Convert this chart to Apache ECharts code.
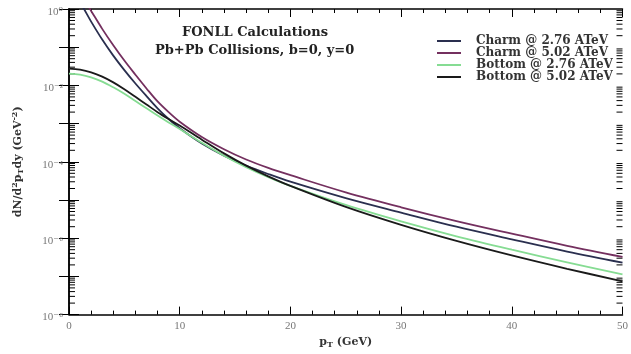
<!DOCTYPE html>
<html>
<head>
<meta charset="utf-8">
<script src="https://cdn.jsdelivr.net/npm/echarts@6/dist/echarts.min.js"></script>
<style>
  html, body { margin: 0; padding: 0; background: #fff; }
  #chart { width: 631px; height: 354px; }
</style>
</head>
<body>
<div id="chart"></div>
<script>
// Transverse momentum grid (GeV)
const pT = [0, 1, 2, 3, 4, 5, 6, 7, 8, 9, 10, 12, 14, 16, 18, 20, 25, 30, 35, 40, 45, 50];

// log10 of dN/d2pTdy (GeV^-2) for each curve
const charm276Log = [0.55, 0.17, -0.33, -0.8, -1.22, -1.6, -1.95, -2.28, -2.6, -2.88, -3.12, -3.52, -3.84, -4.1, -4.32, -4.52, -4.95, -5.33, -5.7, -6.03, -6.35, -6.64];
const charm502Log = [0.8, 0.42, -0.05, -0.52, -0.95, -1.35, -1.72, -2.08, -2.42, -2.7, -2.95, -3.35, -3.67, -3.94, -4.16, -4.35, -4.8, -5.19, -5.55, -5.88, -6.2, -6.49];
const bottom276Log = [-1.69, -1.72, -1.79, -1.9, -2.05, -2.22, -2.41, -2.6, -2.79, -2.97, -3.14, -3.5, -3.84, -4.14, -4.4, -4.63, -5.13, -5.56, -5.95, -6.3, -6.63, -6.95];
const bottom502Log = [-1.56, -1.59, -1.66, -1.77, -1.92, -2.1, -2.3, -2.5, -2.7, -2.88, -3.05, -3.42, -3.78, -4.1, -4.38, -4.63, -5.18, -5.65, -6.07, -6.45, -6.8, -7.13];

const seriesNames = ['Charm @ 2.76 ATeV', 'Charm @ 5.02 ATeV', 'Bottom @ 2.76 ATeV', 'Bottom @ 5.02 ATeV'];
const seriesColors = ['#2a2f4f', '#74305f', '#86dc93', '#1a1a1a'];
const seriesLogs = [charm276Log, charm502Log, bottom276Log, bottom502Log];

// Axis ranges and tick settings
const xMin = 0, xMax = 50, xMajor = 10, xMinor = 2;
const yMinExp = -8, yMaxExp = 0;

const SERIF = '"DejaVu Serif", "Liberation Serif", serif';
const TIMES = '"Liberation Serif", "DejaVu Serif", serif';

const toPairs = (logs) => pT.map((x, i) => [x, Math.pow(10, logs[i])]);

// Log-spaced minor tick values (2..9 x 10^k) for the y axis
const yMinorTicks = [];
for (let e = yMinExp; e < yMaxExp; e++) {
  for (let m = 2; m <= 9; m++) yMinorTicks.push(m * Math.pow(10, e));
}

const supMap = { '-': '\u207B', '0': '\u2070', '1': '\u00B9', '2': '\u00B2', '3': '\u00B3', '4': '\u2074', '5': '\u2075', '6': '\u2076', '7': '\u2077', '8': '\u2078', '9': '\u2079' };

const chart = echarts.init(document.getElementById('chart'), null, { renderer: 'canvas' });

const lineSeries = seriesLogs.map((logs, i) => ({
  name: seriesNames[i],
  type: 'line',
  data: toPairs(logs),
  smooth: 0.35,
  showSymbol: false,
  clip: true,
  lineStyle: { color: seriesColors[i], width: 1.8 },
  itemStyle: { color: seriesColors[i] },
  z: 3
}));

// Minor log ticks on left and right frame edges
const minorTickSeries = {
  type: 'custom',
  silent: true,
  data: yMinorTicks.map(v => [0, v]),
  renderItem: function (params, api) {
    const v = api.value(1);
    const pl = api.coord([xMin, v]);
    const pr = api.coord([xMax, v]);
    const s = { stroke: '#000', lineWidth: 1 };
    return {
      type: 'group',
      children: [
        { type: 'line', shape: { x1: pl[0], y1: pl[1], x2: pl[0] + 6, y2: pl[1] }, style: s },
        { type: 'line', shape: { x1: pr[0], y1: pr[1], x2: pr[0] - 6, y2: pr[1] }, style: s }
      ]
    };
  },
  z: 2
};

const option = {
  animation: false,
  backgroundColor: '#fff',
  grid: { left: 69, right: 4, top: 9, bottom: 33, containLabel: false },
  graphic: [
    {
      type: 'text', top: 26, left: 182, z: 10,
      style: { text: 'FONLL Calculations', font: 'bold 13px ' + SERIF, fill: '#222' }
    },
    {
      type: 'text', top: 44, left: 155, z: 10,
      style: { text: 'Pb+Pb Collisions, b=0, y=0', font: 'bold 13px ' + SERIF, fill: '#222' }
    }
  ],
  legend: {
    orient: 'vertical',
    left: 437,
    top: 35,
    padding: 0,
    itemWidth: 24,
    itemHeight: 2,
    itemGap: 0,
    icon: 'rect',
    data: seriesNames,
    textStyle: { fontFamily: SERIF, fontWeight: 'bold', fontSize: 12, lineHeight: 11, color: '#333', padding: [0, 0, 0, 10] }
  },
  xAxis: [
    {
      type: 'value', min: xMin, max: xMax, interval: xMajor,
      axisLine: { lineStyle: { color: '#000', width: 1.5 } },
      axisTick: { inside: true, length: 8, lineStyle: { color: '#000' } },
      minorTick: { show: true, splitNumber: xMajor / xMinor, length: 4, lineStyle: { color: '#000' } },
      splitLine: { show: false },
      axisLabel: { fontFamily: TIMES, fontSize: 11, color: '#777', margin: 6 },
      name: '{p|p}{sub|T}{p| (GeV)}',
      nameLocation: 'middle',
      nameGap: 17,
      nameTextStyle: {
        rich: {
          p: { fontFamily: SERIF, fontWeight: 'bold', fontSize: 11, color: '#333' },
          sub: { fontFamily: SERIF, fontWeight: 'bold', fontSize: 8, color: '#333', padding: [6, 0, 0, 0] }
        }
      }
    },
    {
      type: 'value', position: 'top', min: xMin, max: xMax, interval: xMajor,
      axisLine: { show: true, lineStyle: { color: '#000', width: 1.5 } },
      axisTick: { inside: true, length: 8, lineStyle: { color: '#000' } },
      minorTick: { show: true, splitNumber: xMajor / xMinor, length: 4, lineStyle: { color: '#000' } },
      splitLine: { show: false },
      axisLabel: { show: false }
    }
  ],
  yAxis: [
    {
      type: 'log', logBase: 10,
      min: Math.pow(10, yMinExp), max: Math.pow(10, yMaxExp),
      interval: 1,
      axisLine: { show: true, lineStyle: { color: '#000', width: 1.5 } },
      axisTick: { show: true, inside: true, length: 10, lineStyle: { color: '#000' } },
      splitLine: { show: false },
      axisLabel: {
        margin: 6,
        verticalAlign: 'top',
        lineHeight: 6,
        fontFamily: TIMES, fontSize: 11, color: '#777',
        formatter: function (v) {
          const e = Math.round(Math.log10(v));
          if (e % 2 !== 0) return '';
          return '10' + String(e).split('').map(c => supMap[c]).join('');
        }
      },
      name: '{t|dN/d}{sup|2}{t|p}{sub|T}{t|dy (GeV}{sup|-2}{t|)}',
      nameLocation: 'middle',
      nameGap: 44,
      nameRotate: 90,
      nameTextStyle: {
        rich: {
          t: { fontFamily: SERIF, fontWeight: 'bold', fontSize: 11, color: '#333' },
          sup: { fontFamily: SERIF, fontWeight: 'bold', fontSize: 8, color: '#333', padding: [0, 0, 6, 0] },
          sub: { fontFamily: SERIF, fontWeight: 'bold', fontSize: 8, color: '#333', padding: [6, 0, 0, 0] }
        }
      }
    },
    {
      type: 'log', logBase: 10, position: 'right',
      min: Math.pow(10, yMinExp), max: Math.pow(10, yMaxExp),
      interval: 1,
      axisLine: { show: true, lineStyle: { color: '#000', width: 1.5 } },
      axisTick: { show: true, inside: true, length: 10, lineStyle: { color: '#000' } },
      splitLine: { show: false },
      axisLabel: { show: false }
    }
  ],
  series: lineSeries.concat([minorTickSeries])
};

chart.setOption(option);
</script>
</body>
</html>
